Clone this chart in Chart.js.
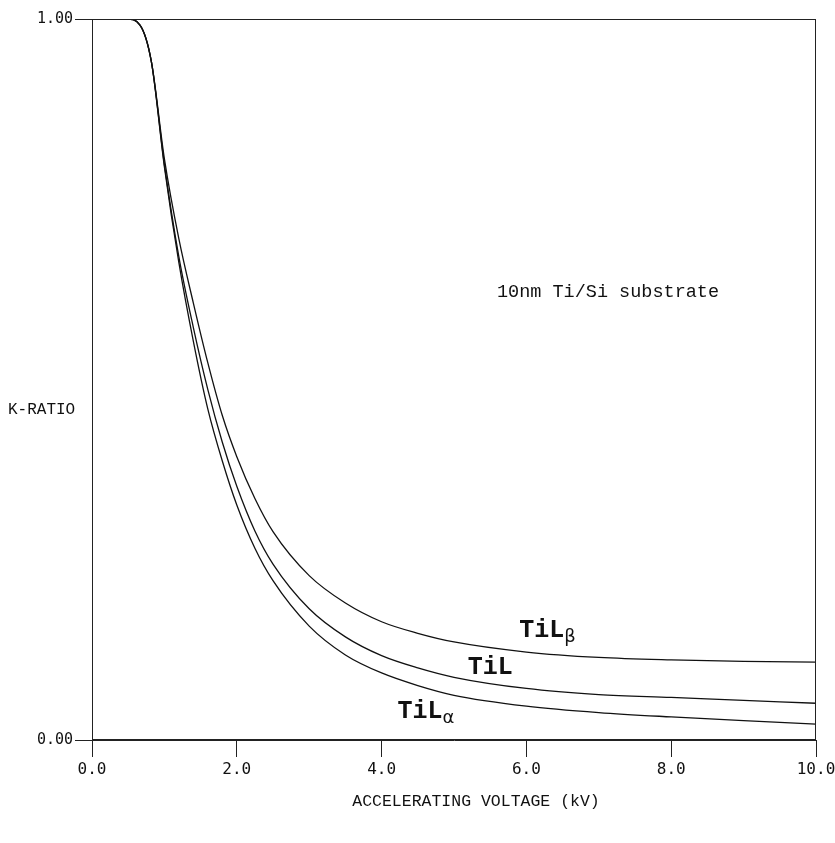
<!DOCTYPE html>
<html>
<head>
<meta charset="utf-8">
<script src="https://cdn.jsdelivr.net/npm/chart.js@4.4.0/dist/chart.umd.min.js"></script>
<style>
  html, body { margin: 0; padding: 0; background: #ffffff; }
  #wrap { width: 835px; height: 843px; }
</style>
</head>
<body>
<div id="wrap"><canvas id="c" width="835" height="843"></canvas></div>
<script>
// ---- data ----
const kv = [0, 0.48, 0.66, 0.82, 1.0, 1.2, 1.4, 1.6, 1.8, 2.0, 2.25, 2.5, 3.0, 3.5, 4.0, 4.5, 5.0, 6.0, 7.0, 8.0, 9.0, 10.0];
const kAlpha = [1.0, 1.0, 0.992, 0.941, 0.795, 0.662, 0.553, 0.459, 0.387, 0.326, 0.266, 0.221, 0.158, 0.118, 0.093, 0.0755, 0.062, 0.047, 0.038, 0.032, 0.027, 0.022];
const kTiL   = [1.0, 1.0, 0.992, 0.941, 0.798, 0.670, 0.572, 0.486, 0.413, 0.352, 0.290, 0.244, 0.182, 0.143, 0.117, 0.100, 0.087, 0.0715, 0.063, 0.059, 0.055, 0.051];
const kBeta  = [1.0, 1.0, 0.992, 0.941, 0.806, 0.695, 0.606, 0.523, 0.450, 0.393, 0.335, 0.289, 0.228, 0.190, 0.164, 0.148, 0.136, 0.122, 0.1145, 0.111, 0.109, 0.108];

const xTicks = [0, 2, 4, 6, 8, 10];
const yTicks = [0, 1];

const seriesNames = ["TiLα", "TiL", "TiLβ"];
// label anchors (kV, k-ratio) and subscripts
const labelBase = ["TiL", "TiL", "TiL"];
const labelSub  = ["α", "", "β"];
const labelKV   = [4.22, 5.19, 5.9];
const labelK    = [0.031, 0.092, 0.143];

const xTitle = "ACCELERATING VOLTAGE (kV)";
const yTitle = "K-RATIO";
const note = "10nm Ti/Si substrate";

function pts(xs, ys) { return xs.map((x, i) => ({ x: x, y: ys[i] })); }

const lineStyle = {
  showLine: true, pointRadius: 0, borderColor: '#111', borderWidth: 1.3,
  fill: false, cubicInterpolationMode: 'monotone'
};

const annot = {
  id: 'annot',
  afterDraw(chart) {
    const ctx = chart.ctx, a = chart.chartArea;
    const xs = chart.scales.x, ys = chart.scales.y;
    ctx.save();
    // box
    ctx.strokeStyle = '#222';
    ctx.lineWidth = 1;
    ctx.strokeRect(a.left + 0.5, a.top + 0.5, a.right - a.left - 1, a.bottom - a.top - 1);
    // series labels
    ctx.fillStyle = '#111';
    ctx.textBaseline = 'alphabetic';
    for (let i = 0; i < labelBase.length; i++) {
      const px = xs.getPixelForValue(labelKV[i]);
      const py = ys.getPixelForValue(labelK[i]);
      ctx.font = 'bold 25px "Liberation Mono", monospace';
      ctx.textAlign = 'left';
      ctx.fillText(labelBase[i], px, py);
      const w = ctx.measureText(labelBase[i]).width;
      if (labelSub[i]) {
        ctx.font = '18px "DejaVu Sans", sans-serif';
        ctx.fillText(labelSub[i], px + w, py + 5);
      }
    }
    // note
    ctx.font = '18.5px "Liberation Mono", monospace';
    ctx.textAlign = 'left';
    ctx.textBaseline = 'middle';
    ctx.fillText(note, 497, 292);
    // y title
    ctx.font = '16px "Liberation Mono", monospace';
    ctx.fillText(yTitle, 8, 410);
    // x title
    ctx.font = '16.5px "Liberation Mono", monospace';
    ctx.textAlign = 'center';
    ctx.fillText(xTitle, 476, 802);
    ctx.restore();
  }
};

new Chart(document.getElementById('c'), {
  type: 'scatter',
  data: {
    datasets: [
      Object.assign({ label: seriesNames[0], data: pts(kv, kAlpha) }, lineStyle),
      Object.assign({ label: seriesNames[1], data: pts(kv, kTiL) }, lineStyle),
      Object.assign({ label: seriesNames[2], data: pts(kv, kBeta) }, lineStyle)
    ]
  },
  options: {
    responsive: false,
    animation: false,
    devicePixelRatio: 1,
    layout: { padding: { top: 19, right: 19, bottom: 0, left: 0 } },
    plugins: { legend: { display: false }, tooltip: { enabled: false } },
    scales: {
      x: {
        type: 'linear', min: 0, max: 10,
        afterBuildTicks: s => { s.ticks = xTicks.map(v => ({ value: v })); },
        afterFit: s => { s.height = 103; s.paddingRight = 0; s.paddingLeft = 0; },
        grid: { drawOnChartArea: false, drawTicks: true, tickLength: 17, color: '#222', lineWidth: 1 },
        border: { display: true, color: '#222', width: 1 },
        ticks: { color: '#111', padding: 3, maxRotation: 0, font: { family: '"DejaVu Sans Mono", monospace', size: 16 },
                 callback: v => Number(v).toFixed(1) }
      },
      y: {
        type: 'linear', min: 0, max: 1,
        afterBuildTicks: s => { s.ticks = yTicks.map(v => ({ value: v })); },
        afterFit: s => { s.width = 92; },
        grid: { drawOnChartArea: false, drawTicks: true, tickLength: 17, color: '#222', lineWidth: 1 },
        border: { display: true, color: '#222', width: 1 },
        ticks: { color: '#111', padding: 2, font: { family: '"DejaVu Sans Mono", monospace', size: 15 },
                 callback: v => Number(v).toFixed(2) }
      }
    }
  },
  plugins: [annot]
});
</script>
</body>
</html>
